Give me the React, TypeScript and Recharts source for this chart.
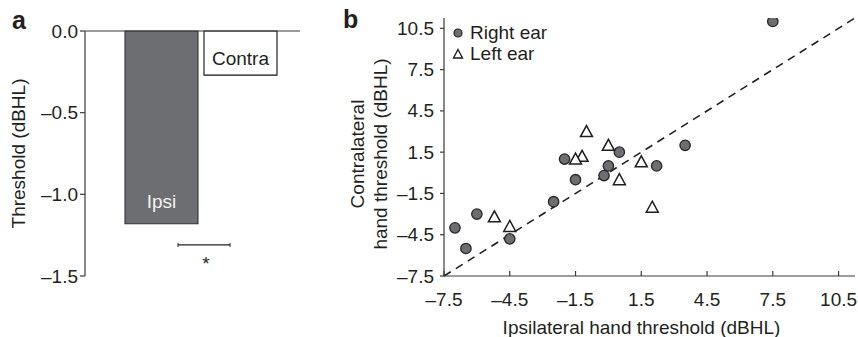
import {
  BarChart,
  Bar,
  Cell,
  LabelList,
  ScatterChart,
  Scatter,
  XAxis,
  YAxis,
  ReferenceLine,
  Legend,
} from 'recharts'

// panel a
const barNames = ['Ipsi', 'Contra']
const barValues = [-1.18, -0.27]
const barTicks = [0, -0.5, -1.0, -1.5]
const sigLevel = -1.31

// panel b
const rightEarX = [7.5, 3.5, 2.2, 0.5, 0, -0.2, -2.0, -1.5, -2.5, -6.0, -7.0, -6.5, -4.5]
const rightEarY = [11.0, 2.0, 0.5, 1.5, 0.5, -0.2, 1.0, -0.5, -2.1, -3.0, -4.0, -5.5, -4.8]
const leftEarX = [-1.0, 0, -1.2, -1.5, 1.5, 0.5, 2.0, -5.2, -4.5]
const leftEarY = [3.0, 2.0, 1.2, 1.0, 0.8, -0.5, -2.5, -3.2, -3.9]
const scatterTicks = [-7.5, -4.5, -1.5, 1.5, 4.5, 7.5, 10.5]
const legendNames = ['Right ear', 'Left ear']

const barData = barNames.map((name, i) => ({ name, value: barValues[i] }))
const rightEar = rightEarX.map((x, i) => ({ x, y: rightEarY[i] }))
const leftEar = leftEarX.map((x, i) => ({ x, y: leftEarY[i] }))

const FONT = '"Liberation Sans", Arial, Helvetica, sans-serif'
const TEXT = '#231f20'
const AXIS = '#3a3a3a'
const GRAY = '#6d6e71'
const FS = 19

const fmt = (v: number) => (v < 0 ? '\u2013' : '') + Math.abs(v).toFixed(1)

function BarLabel(props: any) {
  const { x, y, width, height, index, value } = props
  const bottom = Math.max(y, y + height)
  const isIpsi = index === 0
  return (
    <text
      x={x + width / 2}
      y={bottom - (isIpsi ? 22 : 17)}
      textAnchor="middle"
      dominantBaseline="central"
      fontFamily={FONT}
      fontSize={FS}
      fill={isIpsi ? '#f4f4f4' : TEXT}
    >
      {value}
    </text>
  )
}

function SigBracket(props: any) {
  const { x1, y1 } = props
  const left = x1 + 93
  const right = x1 + 145
  return (
    <g>
      <line x1={left} x2={right} y1={y1} y2={y1} stroke={TEXT} strokeWidth={1.3} />
      <line x1={left} x2={left} y1={y1 - 2} y2={y1 + 2} stroke={TEXT} strokeWidth={1} />
      <line x1={right} x2={right} y1={y1 - 2} y2={y1 + 2} stroke={TEXT} strokeWidth={1} />
      <text
        x={(left + right) / 2 + 2}
        y={y1 + 25}
        textAnchor="middle"
        fontFamily={FONT}
        fontSize={FS}
        fill={TEXT}
      >
        *
      </text>
    </g>
  )
}

function BarYLabel(props: any) {
  const vb = props.viewBox || { x: 5, y: 31, width: 80, height: 245 }
  const cx = vb.x + 13
  const cy = vb.y + vb.height / 2
  return (
    <text
      x={cx}
      y={cy}
      transform={`rotate(-90 ${cx} ${cy})`}
      textAnchor="middle"
      dominantBaseline="central"
      fontFamily={FONT}
      fontSize={FS}
      fill={TEXT}
    >
      Threshold (dBHL)
    </text>
  )
}

function XTick(props: any) {
  const { x, y, payload } = props
  return (
    <g>
      <line x1={x} x2={x} y1={y} y2={y - 5} stroke={AXIS} strokeWidth={1.2} />
      <text
        x={x}
        y={y + 23}
        textAnchor="middle"
        dominantBaseline="central"
        fontFamily={FONT}
        fontSize={FS}
        fill={TEXT}
      >
        {fmt(payload.value)}
      </text>
    </g>
  )
}

function YTick(props: any) {
  const { x, y, payload } = props
  return (
    <g>
      <line x1={x} x2={x - 4} y1={y} y2={y} stroke={AXIS} strokeWidth={1.2} />
      <text
        x={x - 10}
        y={y}
        textAnchor="end"
        dominantBaseline="central"
        fontFamily={FONT}
        fontSize={FS}
        fill={TEXT}
      >
        {fmt(payload.value)}
      </text>
    </g>
  )
}

function ScatterXLabel(props: any) {
  const vb = props.viewBox || { x: 104, y: 276, width: 411, height: 30 }
  return (
    <text
      x={vb.x + vb.width / 2 - 8}
      y={vb.y + 51}
      textAnchor="middle"
      dominantBaseline="central"
      fontFamily={FONT}
      fontSize={FS}
      fill={TEXT}
    >
      Ipsilateral hand threshold (dBHL)
    </text>
  )
}

function ScatterYLabel(props: any) {
  const vb = props.viewBox || { x: 4, y: 18, width: 100, height: 258 }
  const cy = vb.y + vb.height / 2 + 7
  const lines = ['Contralateral', 'hand threshold (dBHL)']
  return (
    <g>
      {lines.map((line, i) => {
        const cx = vb.x + 13 + i * 23
        return (
          <text
            key={line}
            x={cx}
            y={cy}
            transform={`rotate(-90 ${cx} ${cy})`}
            textAnchor="middle"
            dominantBaseline="central"
            fontFamily={FONT}
            fontSize={FS}
            fill={TEXT}
          >
            {line}
          </text>
        )
      })}
    </g>
  )
}

function CircleMark(props: any) {
  const { cx, cy } = props
  return <circle cx={cx} cy={cy} r={5.2} fill={GRAY} stroke="#262626" strokeWidth={1.3} />
}

function TriangleMark(props: any) {
  const { cx, cy } = props
  return (
    <path
      d={`M${cx},${cy - 6}L${cx + 6},${cy + 5}L${cx - 6},${cy + 5}Z`}
      fill="#fff"
      stroke="#1e1e1e"
      strokeWidth={1.5}
      strokeLinejoin="miter"
    />
  )
}

// fixed order: circle row first, triangle row second
function LegendBox() {
  return (
    <div style={{ fontFamily: FONT, fontSize: FS, color: TEXT, lineHeight: '21px' }}>
      {legendNames.map((name, i) => (
        <div key={name} style={{ display: 'flex', alignItems: 'center', height: 21 }}>
          <svg width={12} height={12} style={{ display: 'block' }}>
            {i === 0 ? (
              <circle cx={6} cy={6} r={4} fill={GRAY} stroke="#262626" strokeWidth={1.2} />
            ) : (
              <path d="M6,1.5L10.5,10L1.5,10Z" fill="#fff" stroke="#1e1e1e" strokeWidth={1.4} />
            )}
          </svg>
          <span style={{ marginLeft: 6, whiteSpace: 'nowrap' }}>{name}</span>
        </div>
      ))}
    </div>
  )
}

export default function App() {
  return (
    <div
      style={{
        position: 'absolute',
        left: 0,
        top: 0,
        width: 858,
        height: 337,
        background: '#fff',
        overflow: 'hidden',
      }}
    >
      <div style={{ position: 'absolute', left: 0, top: 0 }}>
        <BarChart
          width={310}
          height={337}
          data={barData}
          margin={{ top: 31, right: 10, bottom: 61, left: 5 }}
          barCategoryGap={3}
        >
          <XAxis dataKey="name" hide padding={{ left: 37, right: 20 }} />
          <YAxis
            width={80}
            domain={[-1.5, 0]}
            ticks={barTicks}
            tickFormatter={fmt}
            tickSize={5}
            tickMargin={2}
            axisLine={{ stroke: AXIS, strokeWidth: 1.2 }}
            tickLine={{ stroke: AXIS, strokeWidth: 1.2 }}
            tick={{ fontSize: FS, fill: TEXT, fontFamily: FONT }}
            label={{ content: BarYLabel }}
          />
          <Bar dataKey="value" isAnimationActive={false}>
            {barData.map((d, i) => (
              <Cell
                key={`cell-${i}`}
                fill={i === 0 ? GRAY : '#fff'}
                stroke={i === 0 ? '#333' : '#111'}
                strokeWidth={1.1}
              />
            ))}
            <LabelList dataKey="name" content={BarLabel} />
          </Bar>
          <ReferenceLine y={0} stroke={AXIS} strokeWidth={1.2} />
          <ReferenceLine y={sigLevel} shape={SigBracket} />
        </BarChart>
      </div>

      <div style={{ position: 'absolute', left: 340, top: 0 }}>
        <ScatterChart
          width={518}
          height={337}
          margin={{ top: 18, right: 3, bottom: 31, left: 4 }}
        >
          <XAxis
            type="number"
            dataKey="x"
            domain={[-7.5, 11.25]}
            ticks={scatterTicks}
            allowDataOverflow
            height={30}
            tickSize={0}
            tickMargin={0}
            tick={XTick}
            axisLine={{ stroke: AXIS, strokeWidth: 1.2 }}
            label={{ content: ScatterXLabel }}
          />
          <YAxis
            type="number"
            dataKey="y"
            width={100}
            domain={[-7.5, 11.25]}
            ticks={scatterTicks}
            allowDataOverflow
            tickSize={0}
            tickMargin={0}
            tick={YTick}
            axisLine={{ stroke: AXIS, strokeWidth: 1.2 }}
            label={{ content: ScatterYLabel }}
          />
          <ReferenceLine
            segment={[
              { x: -7.5, y: -7.5 },
              { x: 11.25, y: 11.25 },
            ]}
            stroke={TEXT}
            strokeWidth={1.6}
            strokeDasharray="8 6"
          />
          <Scatter
            name={legendNames[0]}
            data={rightEar}
            shape={CircleMark}
            isAnimationActive={false}
          />
          <Scatter
            name={legendNames[1]}
            data={leftEar}
            shape={TriangleMark}
            isAnimationActive={false}
          />
          <Legend
            content={LegendBox}
            layout="vertical"
            align="center"
            verticalAlign="middle"
            wrapperStyle={{ left: 112, top: 22, width: 'auto' }}
          />
        </ScatterChart>
      </div>

      <svg
        width={858}
        height={337}
        style={{ position: 'absolute', left: 0, top: 0, pointerEvents: 'none' }}
      >
        <text x={12} y={29} fontFamily={FONT} fontSize={25} fontWeight="bold" fill={TEXT}>
          a
        </text>
        <text x={343} y={28} fontFamily={FONT} fontSize={25} fontWeight="bold" fill={TEXT}>
          b
        </text>
      </svg>
    </div>
  )
}
